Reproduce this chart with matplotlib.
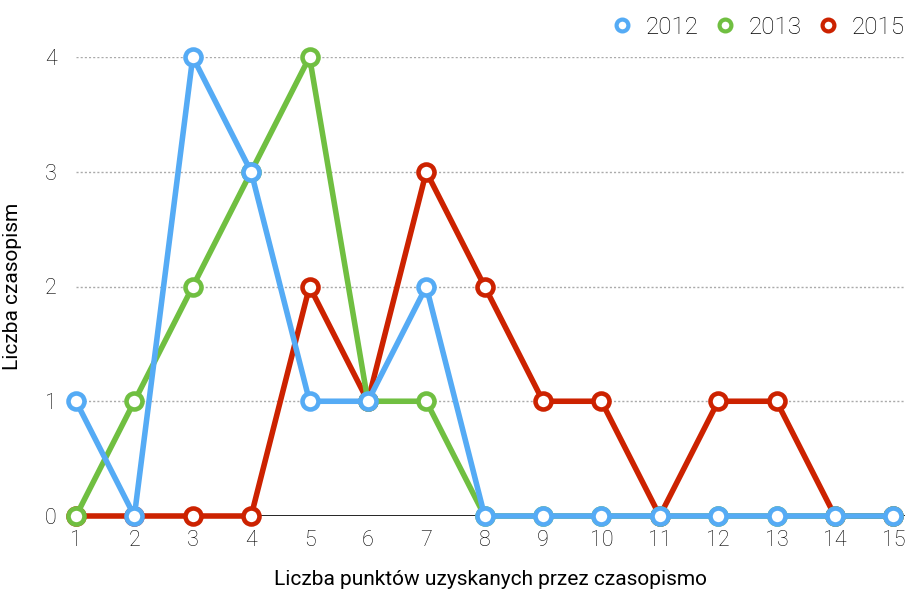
import matplotlib
matplotlib.use("Agg")
import matplotlib.pyplot as plt
from matplotlib.lines import Line2D

plt.rcParams['font.family'] = ['Roboto', 'DejaVu Sans']
plt.rcParams['font.weight'] = 'light'

x = list(range(1, 16))
s2012 = [1, 0, 4, 3, 1, 1, 2, 0, 0, 0, 0, 0, 0, 0, 0]
s2013 = [0, 1, 2, 3, 4, 1, 1, 0, 0, 0, 0, 0, 0, 0, 0]
s2015 = [0, 0, 0, 0, 2, 1, 3, 2, 1, 1, 0, 1, 1, 0, 0]
series = [("2012", s2012, "#55ABF5"), ("2013", s2013, "#70BF41"), ("2015", s2015, "#CC2200")]
zorders = {"2012": 5, "2013": 4, "2015": 3}

fig = plt.figure(figsize=(9.11, 5.89), dpi=100)
ax = fig.add_axes([76/911, 73/589, (905-76)/911, (516-57)/589])

for name, vals, col in series:
    ax.plot(x, vals, color=col, lw=4, marker='o', ms=11.5, mfc='white',
            mec=col, mew=3.3, clip_on=False, zorder=zorders[name], solid_joinstyle='round')

ax.set_xlim(1, 15.2)
ax.set_ylim(0, 4)
ax.set_xticks(x)
ax.set_yticks([0, 1, 2, 3, 4])
for yv in [1, 2, 3, 4]:
    ax.axhline(yv, color='#aaaaaa', lw=1, ls=(0, (1.5, 1.5)), zorder=1)
ax.axhline(0, color='black', lw=1.2, zorder=2)
for sp in ax.spines.values():
    sp.set_visible(False)
ax.tick_params(length=0, labelsize=15.5, colors='black')
ax.tick_params(axis='x', pad=10)
ax.tick_params(axis='y', pad=14)
ax.set_xlabel("Liczba punktów uzyskanych przez czasopismo", fontsize=15, color='black', labelpad=14)
ax.set_ylabel("Liczba czasopism", fontsize=15, color='black', labelpad=16)

handles = [Line2D([], [], color=c, ls='none', marker='o', ms=8.5, mfc='white', mec=c, mew=3) for _, _, c in series]
fig.legend(handles, [s[0] for s in series], loc='upper right', bbox_to_anchor=(909/911, 1 - 11/589),
           ncol=3, frameon=False, fontsize=17.5, handletextpad=0.35, columnspacing=0.5,
           handlelength=1.2, borderaxespad=0.0, borderpad=0.2, labelcolor='black')

fig.savefig("out.png", dpi=100)
